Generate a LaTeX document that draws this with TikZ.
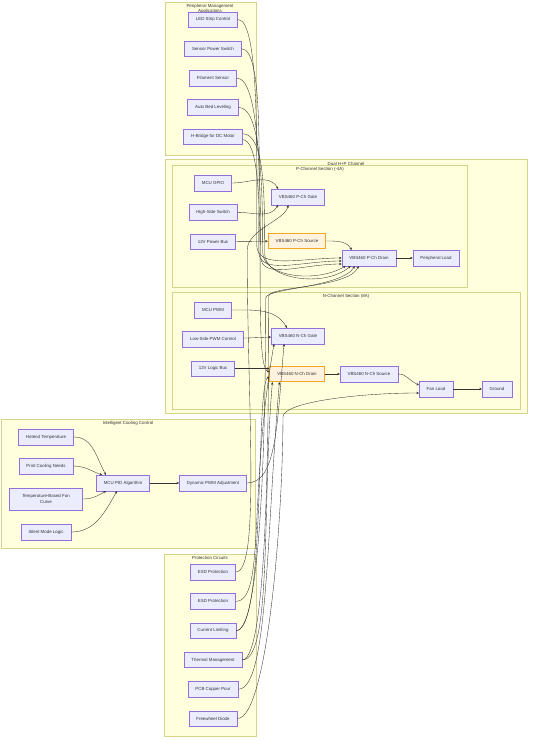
\documentclass[tikz,border=0pt]{standalone}
\usepackage{fontspec}
\setmainfont{Liberation Sans}
\usetikzlibrary{positioning,arrows.meta}
\definecolor{boxfill}{HTML}{ECECFF}
\definecolor{boxline}{HTML}{9370DB}
\definecolor{keyfill}{HTML}{FFF3E0}
\definecolor{keyline}{HTML}{F5A623}
\definecolor{grpfill}{HTML}{FFFFDE}
\definecolor{grpline}{HTML}{D4D48A}
\definecolor{lnk}{HTML}{333333}
\definecolor{txt}{HTML}{333333}
\begin{document}
\begin{tikzpicture}[x=1pt,y=-1pt,node distance=29.3pt,
  >={Stealth[length=2.6pt,width=2.4pt]},
  every node/.style={font=\fontsize{4.4}{5.4}\selectfont, text=txt},
  box/.style={draw=boxline, fill=boxfill, line width=.5pt, minimum height=15.5pt, inner xsep=7.5pt, inner ysep=1pt},
  keybox/.style={box, draw=keyline, fill=keyfill, line width=.8pt},
  grp/.style={draw=grpline, fill=grpfill, line width=.6pt},
  link/.style={->, draw=lnk, line width=.35pt}]
  \useasboundingbox (0,0) rectangle (534,744);
  \draw[grp] (165,2) rectangle (256,155);
  \draw[grp] (165,159) rectangle (527,413);
  \draw[grp] (172,165) rectangle (467,287);
  \draw[grp] (172,292) rectangle (520,409);
  \draw[grp] (1,419) rectangle (255,548);
  \draw[grp] (164,554) rectangle (256,736);
  \node(tper) at (210,6) {Peripheral Management};
  \node(tper2) at (210,11.5) {Applications};
  \node(tdual) at (346,164) {Dual H+P Channel};
  \node(tpch) at (320,169) {P-Channel Section (-4A)};
  \node(tnch) at (346,296) {N-Channel Section (8A)};
  \node(tcool) at (128,423) {Intelligent Cooling Control};
  \node(tprot) at (210,558) {Protection Circuits};
  \node[box](led) at (213,19.5) {LED Strip Control};
  \node[box](sensor)[below of=led] {Sensor Power Switch};
  \node[box](filament)[below of=sensor] {Filament Sensor};
  \node[box](bedlevel)[below of=filament] {Auto Bed Leveling};
  \node[box](hbridge)[below of=bedlevel] {H-Bridge for DC Motor};
  \node[box](gpio) at (213,183) {MCU GPIO};
  \node[box](hiside)[below of=gpio] {High-Side Switch};
  \node[box](pbus)[below of=hiside] {12V Power Bus};
  \node[box](pgate) at (298,197) {VBS460 P-Ch Gate};
  \node[keybox](psource) at (297,241) {VBS460 P-Ch Source};
  \node[box](pdrain) at (369,258) {VBS460 P-Ch Drain};
  \node[box](pload) at (436,258) {Peripheral Load};
  \node[box](pwm) at (213,310) {MCU PWM};
  \node[box](loside)[below of=pwm] {Low-Side PWM Control};
  \node[box](lbus)[below of=loside] {12V Logic Bus};
  \node[box](ngate) at (298,336) {VBS460 N-Ch Gate};
  \node[keybox](ndrain) at (297,374) {VBS460 N-Ch Drain};
  \node[box](nsource) at (369,374) {VBS460 N-Ch Source};
  \node[box](fan) at (436,389) {Fan Load};
  \node[box](gnd) at (497,389) {Ground};
  \node[box](hotend) at (46,437) {Hotend Temperature};
  \node[box](cooling) at (46,466) {Print Cooling Needs};
  \node[box, align=center, minimum height=22pt, minimum width=73pt](fancurve) at (46,499) {Temperature-Based Fan\\Curve};
  \node[box](silent) at (46,532) {Silent Mode Logic};
  \node[box](pid) at (123,483) {MCU PID Algorithm};
  \node[box](dynpwm) at (213,483) {Dynamic PWM Adjustment};
  \node[box](esda) at (213,572) {ESD Protection};
  \node[box](esdb)[below of=esda] {ESD Protection};
  \node[box](ilimit)[below of=esdb] {Current Limiting};
  \node[box](thermal)[below of=ilimit] {Thermal Management};
  \node[box](copper)[below of=thermal] {PCB Copper Pour};
  \node[box](diode)[below of=copper] {Freewheel Diode};
  \draw[link] (gpio.east) to[out=0,in=120] ([xshift=7pt]pgate.north west);
  \draw[link] (hiside.east) to[out=0,in=-120] ([xshift=7pt]pgate.south west);
  \draw[link] (pbus) -- (psource);
  \draw[link] (psource.east) to[out=0,in=120] ([xshift=10pt]pdrain.north west);
  \draw[link] (pdrain) -- (pload);
  \draw[link] (pwm.east) to[out=0,in=120] ([xshift=16pt]ngate.north west);
  \draw[link] (loside) -- (ngate);
  \draw[link] (lbus) -- (lbus -| ndrain.west);
  \draw[link] (ndrain) -- (nsource);
  \draw[link] (nsource.east) to[out=0,in=160] ([yshift=4pt]fan.west);
  \draw[link] (fan) -- (gnd);
  \draw[link] (hotend.east) to[out=0,in=120] ([xshift=10pt]pid.north west);
  \draw[link] (cooling.east) to[out=0,in=160] ([xshift=6pt]pid.north west);
  \draw[link] (fancurve.east) to[out=0,in=-150] ([xshift=10pt]pid.south west);
  \draw[link] (silent.east) to[out=0,in=-120] ([xshift=21pt]pid.south west);
  \draw[link] (pid) -- (dynpwm);
  \draw[link] (led.east) to[out=0,in=90,out distance=22pt,in distance=90pt] ([xshift=-85pt,yshift=13pt]pdrain.west) to[out=-90,in=180,out distance=25pt,in distance=40pt] (pdrain.west);
  \draw[link] (sensor.east) to[out=0,in=90,out distance=22pt,in distance=85pt] ([xshift=-83pt,yshift=7pt]pdrain.west) to[out=-90,in=180,out distance=25pt,in distance=40pt] ([yshift=-3pt]pdrain.west);
  \draw[link] (filament.east) to[out=0,in=90,out distance=22pt,in distance=80pt] ([xshift=-81pt,yshift=2pt]pdrain.west) to[out=-90,in=180,out distance=25pt,in distance=40pt] ([yshift=-6pt]pdrain.west);
  \draw[link] (bedlevel.east) to[out=0,in=90,out distance=22pt,in distance=70pt] ([xshift=-79pt,yshift=14pt]pdrain.south west) to[out=-90,in=-150,out distance=25pt,in distance=35pt] ([xshift=4pt]pdrain.south west);
  \draw[link] ([yshift=3pt]hbridge.east) to[out=0,in=90,out distance=22pt,in distance=60pt] ([xshift=-77pt,yshift=12pt]pdrain.south west) to[out=-90,in=-140,out distance=25pt,in distance=35pt] ([xshift=9pt]pdrain.south west);
  \draw[link] ([yshift=-3pt]hbridge.east) to[out=0,in=160,out distance=30pt,in distance=20pt] ([yshift=2pt]ndrain.west);
  \draw[link] (esda.east) to[out=0,in=-90,out distance=25pt,in distance=150pt] ([xshift=-24pt,yshift=-45pt]pgate.south west) to[out=90,in=-100,out distance=20pt,in distance=15pt] ([xshift=17pt]pgate.south west);
  \draw[link] (esdb.east) to[out=0,in=-100,out distance=30pt,in distance=150pt] ([xshift=3pt]ngate.south west);
  \draw[link] (dynpwm.east) to[out=0,in=-95,out distance=30pt,in distance=80pt] ([xshift=13pt]ngate.south west);
  \draw[link] (ilimit.east) to[out=0,in=-90,out distance=25pt,in distance=130pt] ([xshift=-76pt,yshift=-32pt]pdrain.south west) to[out=90,in=-120,out distance=10pt,in distance=25pt] ([xshift=13pt]pdrain.south west);
  \draw[link] (ilimit.east) to[out=0,in=-160,out distance=30pt,in distance=15pt] ([yshift=-3pt]ndrain.west);
  \draw[link] (thermal.east) to[out=0,in=-90,out distance=25pt,in distance=140pt] ([xshift=-73pt,yshift=-30pt]pdrain.south west) to[out=90,in=-115,out distance=10pt,in distance=25pt] ([xshift=17pt]pdrain.south west);
  \draw[link] (thermal.east) to[out=0,in=-95,out distance=30pt,in distance=120pt] ([xshift=3pt]ndrain.south west);
  \draw[link] (copper.east) to[out=0,in=-95,out distance=30pt,in distance=150pt] ([xshift=10pt]ndrain.south west);
  \draw[link] (diode.east) to[out=0,in=-90,out distance=30pt,in distance=100pt] ([xshift=-136pt,yshift=-28pt]fan.west) to[out=90,in=180,out distance=15pt,in distance=60pt] ([yshift=-4pt]fan.west);
\end{tikzpicture}
\end{document}
